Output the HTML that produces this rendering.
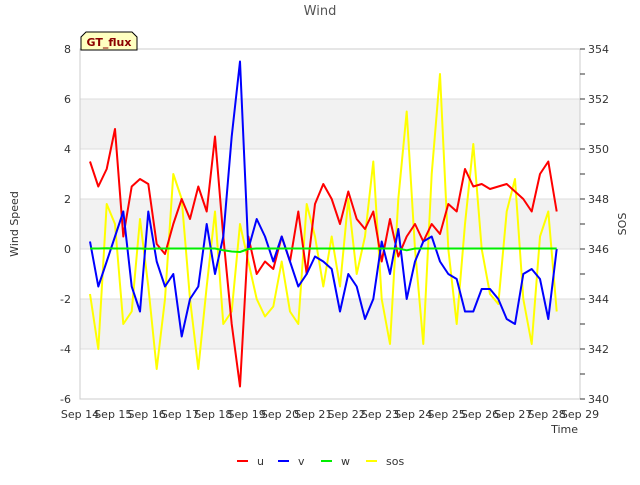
<!DOCTYPE html>
<html><head><meta charset="utf-8"><style>
body{margin:0;background:#fff;}
svg text{font-family:"DejaVu Sans","Liberation Sans",sans-serif;}
</style></head><body>
<svg id="chart" width="640" height="480" xmlns="http://www.w3.org/2000/svg">
<rect x="0" y="0" width="640" height="480" fill="#fff"/>
<g id="bands"></g>
<g id="grid"></g>
<rect x="80" y="49" width="500" height="350" fill="none" stroke="#ccc"/>
<g id="axes"></g>
<g id="series" clip-path="url(#clip)"></g>
<defs><clipPath id="clip"><rect x="80" y="49" width="500" height="350"/></clipPath></defs>
<text x="320" y="15" text-anchor="middle" font-size="13" fill="#555">Wind</text>
<text x="18" y="224" text-anchor="middle" font-size="11" fill="#333" transform="rotate(-90 18 224)">Wind Speed</text>
<text x="626" y="224" text-anchor="middle" font-size="11" fill="#333" transform="rotate(-90 626 224)">SOS</text>
<text x="578" y="433" text-anchor="end" font-size="11" fill="#333">Time</text>
<g>
<path d="M81,50 L81,37 L86,32 L132,32 L137,37 L137,50 Z" fill="#ffffc0" stroke="#000"/>
<text x="109" y="46" text-anchor="middle" font-size="11" font-weight="bold" fill="#8b0000">GT_flux</text>
</g>
<g id="legend"></g>
</svg>
<script>
const times = [];
for (let i = 0; i < 57; i++) times.push(14.3 + i * 0.25);
const uVals = [3.5,2.5,3.2,4.8,0.5,2.5,2.8,2.6,0.2,-0.2,1.0,2.0,1.2,2.5,1.5,4.5,0.5,-3.0,-5.5,0.5,-1.0,-0.5,-0.8,0.5,-0.5,1.5,-1.0,1.8,2.6,2.0,1.0,2.3,1.2,0.8,1.5,-0.5,1.2,-0.3,0.5,1.0,0.3,1.0,0.6,1.8,1.5,3.2,2.5,2.6,2.4,2.5,2.6,2.3,2.0,1.5,3.0,3.5,1.5];
const vVals = [0.3,-1.5,-0.5,0.5,1.5,-1.5,-2.5,1.5,-0.5,-1.5,-1.0,-3.5,-2.0,-1.5,1.0,-1.0,0.5,4.5,7.5,0.0,1.2,0.5,-0.5,0.5,-0.5,-1.5,-1.0,-0.3,-0.5,-0.8,-2.5,-1.0,-1.5,-2.8,-2.0,0.3,-1.0,0.8,-2.0,-0.5,0.3,0.5,-0.5,-1.0,-1.2,-2.5,-2.5,-1.6,-1.6,-2.0,-2.8,-3.0,-1.0,-0.8,-1.2,-2.8,0.0];
const wVals = [0.02,0.02,0.03,0.02,0.02,0.02,0.02,0.01,0.02,0.02,0.02,0.02,0.02,0.02,0.02,0.02,-0.05,-0.1,-0.12,0.0,0.02,0.02,0.02,0.02,0.02,0.02,0.02,0.02,0.02,0.02,0.02,0.02,0.02,0.02,0.02,0.02,0.02,0.02,-0.05,0.02,0.02,0.02,0.02,0.02,0.02,0.02,0.02,0.02,0.02,0.02,0.02,0.02,0.02,0.02,0.02,0.02,0.02];
const sosVals = [344.2,342,347.8,347,343,343.5,347.2,344.5,341.2,344,349,348,344,341.2,344.5,347.5,343,343.5,347,345.5,344,343.3,343.7,345.5,343.5,343,347.8,346.5,344.5,346.5,344.5,348,345,346.5,349.5,344,342.2,348,351.5,346,342.2,349,353,346,343,347,350.2,346,344.2,343.8,347.5,348.8,344,342.2,346.5,347.5,343.5];
const leftTicks = [-6,-4,-2,0,2,4,6,8];
const rightTicks = [340,342,344,346,348,350,352,354];
const dayTicks = [14,15,16,17,18,19,20,21,22,23,24,25,26,27,28,29];
const seriesNames = ["u","v","w","sos"];
const seriesColors = ["#ff0000","#0000ff","#00ee00","#ffff00"];

const NS = "http://www.w3.org/2000/svg";
const X0 = 80, X1 = 580, Y0 = 49, Y1 = 399;
const xs = d => X0 + (d - 14) / 15 * (X1 - X0);
const yl = v => Y1 - (v + 6) / 14 * (Y1 - Y0);
const yr = v => Y1 - (v - 340) / 14 * (Y1 - Y0);
function mk(tag, attrs, parent) {
  const e = document.createElementNS(NS, tag);
  for (const k in attrs) e.setAttribute(k, attrs[k]);
  parent.appendChild(e);
  return e;
}
const bands = document.getElementById('bands');
[[-4,-2],[0,2],[4,6]].forEach(b => {
  const r = mk('rect', {x: X0, y: yl(b[1]), width: X1 - X0, height: yl(b[0]) - yl(b[1]), fill: '#f2f2f2'}, bands);
  
  
});
const grid = document.getElementById('grid');
leftTicks.forEach(t => {
  const l = mk('line', {x1: X0, x2: X1, y1: yl(t), y2: yl(t), stroke: '#ddd'}, grid);
  
  
});
const axes = document.getElementById('axes');
leftTicks.forEach(t => {
  const tx = mk('text', {x: X0 - 9, y: yl(t) + 4, 'text-anchor': 'end', 'font-size': 11, fill: '#333'}, axes);
  tx.textContent = t;
  
  
});
rightTicks.forEach((t, i) => {
  mk('line', {x1: X1, x2: X1 + 5, y1: yr(t), y2: yr(t), stroke: '#333'}, axes);
  if (i < rightTicks.length - 1) mk('line', {x1: X1, x2: X1 + 5, y1: yr(t + 1), y2: yr(t + 1), stroke: '#333'}, axes);
  const tx = mk('text', {x: X1 + 8, y: yr(t) + 4, 'font-size': 11, fill: '#333'}, axes);
  tx.textContent = t;
  
  
});
dayTicks.forEach(d => {
  const tx = mk('text', {x: xs(d), y: 418, 'text-anchor': 'middle', 'font-size': 11, fill: '#333'}, axes);
  tx.textContent = 'Sep ' + d;
  
  
});
const series = document.getElementById('series');
function drawLine(vals, yf, color, name) {
  const pts = vals.map((v, i) => xs(times[i]).toFixed(1) + ',' + yf(v).toFixed(1)).join(' ');
  const p = mk('polyline', {points: pts, fill: 'none', stroke: color, 'stroke-width': 2, 'stroke-linejoin': 'round'}, series);
  
  
}
drawLine(sosVals, yr, seriesColors[3], 'sos-line');
drawLine(uVals, yl, seriesColors[0], 'u-line');
drawLine(vVals, yl, seriesColors[1], 'v-line');
drawLine(wVals, yl, seriesColors[2], 'w-line');
const legend = document.getElementById('legend');
const lx = [237, 278, 321, 366];
seriesNames.forEach((n, i) => {
  const g = mk('g', {}, legend);
  
  
  mk('line', {x1: lx[i], x2: lx[i] + 11, y1: 461, y2: 461, stroke: seriesColors[i], 'stroke-width': 2}, g);
  const t = mk('text', {x: lx[i] + 20, y: 465, 'font-size': 11, fill: '#333'}, g);
  t.textContent = n;
});
</script>
</body></html>
